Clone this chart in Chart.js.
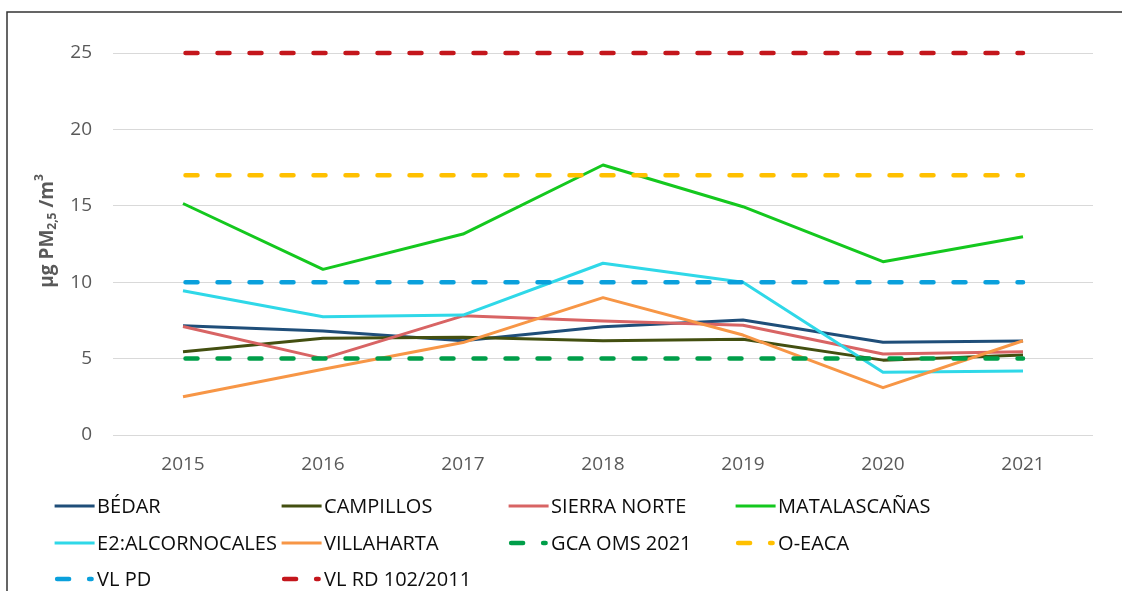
<!DOCTYPE html>
<html>
<head>
<meta charset="utf-8">
<script src="https://cdn.jsdelivr.net/npm/chart.js@4/dist/chart.umd.min.js"></script>
<style>
  html, body { margin: 0; padding: 0; background: #fff; }
  #wrap { width: 1122px; height: 591px; position: relative; }
</style>
</head>
<body>
<div id="wrap"><canvas id="c" width="1122" height="591"></canvas></div>
<script>
// ---- data ----
const years = ['2015', '2016', '2017', '2018', '2019', '2020', '2021'];
const yTicks = [0, 5, 10, 15, 20, 25];

const bedar        = [7.15, 6.8, 6.17, 7.09, 7.53, 6.07, 6.15];
const campillos    = [5.45, 6.33, 6.39, 6.17, 6.26, 4.9, 5.24];
const sierraNorte  = [7.1, 5.0, 7.8, 7.46, 7.18, 5.3, 5.45];
const matalascanas = [15.15, 10.84, 13.15, 17.67, 14.94, 11.34, 12.98];
const alcornocales = [9.44, 7.74, 7.85, 11.24, 10.0, 4.1, 4.19];
const villaharta   = [2.5, 4.3, 6.05, 8.99, 6.54, 3.1, 6.17];

const gcaOms2021 = [5, 5, 5, 5, 5, 5, 5];
const oEaca      = [17, 17, 17, 17, 17, 17, 17];
const vlPd       = [10, 10, 10, 10, 10, 10, 10];
const vlRd       = [25, 25, 25, 25, 25, 25, 25];

const seriesLabels = ['BÉDAR', 'CAMPILLOS', 'SIERRA NORTE', 'MATALASCAÑAS',
  'E2:ALCORNOCALES', 'VILLAHARTA', 'GCA OMS 2021', 'O-EACA', 'VL PD', 'VL RD 102/2011'];
const seriesColors = ['#1F4E79', '#434F10', '#D86464', '#14C81E',
  '#2FD8E8', '#F79646', '#009E49', '#FFC000', '#0AA0DC', '#C4161C'];
const seriesData = [bedar, campillos, sierraNorte, matalascanas, alcornocales, villaharta,
  gcaOms2021, oEaca, vlPd, vlRd];
const dashedFlags = [false, false, false, false, false, false, true, true, true, true];

const FONT = "'Open Sans', 'Noto Sans', sans-serif";

const datasets = seriesData.map((d, i) => ({
  label: seriesLabels[i],
  data: d,
  borderColor: seriesColors[i],
  backgroundColor: seriesColors[i],
  borderWidth: dashedFlags[i] ? 4.5 : 3,
  borderDash: dashedFlags[i] ? [12, 20] : [],
  borderDashOffset: dashedFlags[i] ? -2.5 : 0,
  borderCapStyle: dashedFlags[i] ? 'round' : 'butt',
  borderJoinStyle: 'round',
  pointRadius: 0,
  pointHoverRadius: 0,
  tension: 0,
  fill: false,
  clip: false,
  order: 20 - i,
  _dashed: dashedFlags[i]
}));

const decorPlugin = {
  id: 'decor',
  afterDraw(chart) {
    const ctx = chart.ctx;
    ctx.save();
    // outer frame
    ctx.strokeStyle = '#333333';
    ctx.lineWidth = 1.5;
    ctx.beginPath();
    ctx.moveTo(7, 600);
    ctx.lineTo(7, 12);
    ctx.lineTo(1130, 12);
    ctx.stroke();

    // y axis title with sub/superscript
    ctx.translate(48, 231);
    ctx.rotate(-Math.PI / 2);
    const big = "bold 19px " + FONT;
    const small = "bold 12px " + FONT;
    const parts = [
      { t: 'µg PM', f: big, dy: 0 },
      { t: '2,5', f: small, dy: 5 },
      { t: ' /m', f: big, dy: 0 },
      { t: '3', f: small, dy: -8 }
    ];
    let total = 0;
    parts.forEach(p => { ctx.font = p.f; p.w = ctx.measureText(p.t).width; total += p.w; });
    let x = -total / 2;
    ctx.fillStyle = '#595959';
    ctx.textBaseline = 'middle';
    ctx.textAlign = 'left';
    parts.forEach(p => { ctx.font = p.f; ctx.fillText(p.t, x, p.dy); x += p.w; });
    ctx.restore();

    // legend
    ctx.save();
    const colX = [54.6, 281.6, 508.6, 735.6];
    const rowY = [506, 543, 579];
    chart.data.datasets.forEach((ds, k) => {
      const r = Math.floor(k / 4), c = k % 4;
      const x0 = colX[c], y0 = rowY[r];
      ctx.strokeStyle = ds.borderColor;
      ctx.beginPath();
      if (ds._dashed) {
        ctx.lineWidth = 4.5;
        ctx.lineCap = 'round';
        ctx.setLineDash([12, 20]);
        ctx.lineDashOffset = 0;
        ctx.moveTo(x0 + 2.5, y0);
        ctx.lineTo(x0 + 37, y0);
      } else {
        ctx.lineWidth = 3;
        ctx.lineCap = 'butt';
        ctx.setLineDash([]);
        ctx.moveTo(x0, y0);
        ctx.lineTo(x0 + 40, y0);
      }
      ctx.stroke();
      ctx.setLineDash([]);
      ctx.font = "20px " + FONT;
      ctx.fillStyle = '#0d0d0d';
      ctx.textBaseline = 'middle';
      ctx.textAlign = 'left';
      ctx.fillText(ds.label, x0 + 42.5, y0 + 1);
    });
    ctx.restore();
  }
};

new Chart(document.getElementById('c'), {
  type: 'line',
  data: { labels: years, datasets: datasets },
  plugins: [decorPlugin],
  options: {
    responsive: false,
    animation: false,
    layout: { padding: { left: 0, top: 53, right: 29, bottom: 111 } },
    plugins: { legend: { display: false }, tooltip: { enabled: false } },
    scales: {
      x: {
        type: 'category',
        offset: true,
        grid: { display: false, drawTicks: false },
        border: { display: false },
        ticks: { color: '#595959', font: { family: FONT, size: 19 }, padding: 18, maxRotation: 0 },
        afterFit(s) { s.height = 45; }
      },
      y: {
        min: 0, max: 25,
        afterBuildTicks(s) { s.ticks = yTicks.map(v => ({ value: v })); },
        grid: { color: '#D9D9D9', lineWidth: 1, drawTicks: false },
        border: { display: false },
        ticks: { color: '#595959', font: { family: FONT, size: 19 }, padding: 21 },
        afterFit(s) { s.width = 113; }
      }
    }
  }
});
</script>
</body>
</html>
